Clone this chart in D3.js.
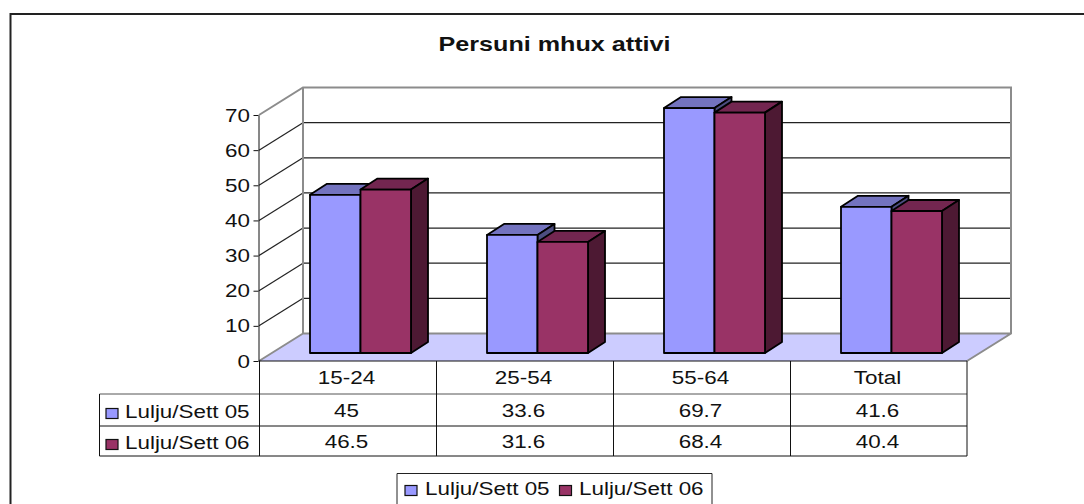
<!DOCTYPE html>
<html>
<head>
<meta charset="utf-8">
<script src="https://cdn.jsdelivr.net/npm/d3@7"></script>
<style>
  html, body { margin: 0; padding: 0; background: #fff; overflow: hidden; }
  svg { display: block; }
  text { font-family: "Liberation Sans", Arial, sans-serif; fill: #111; }
</style>
</head>
<body>
<script>
var categories = ['15-24', '25-54', '55-64', 'Total'];
var seriesNames = ['Lulju/Sett 05', 'Lulju/Sett 06'];
var values05 = [45, 33.6, 69.7, 41.6];
var values06 = [46.5, 31.6, 68.4, 40.4];
var labels05 = ['45', '33.6', '69.7', '41.6'];
var labels06 = ['46.5', '31.6', '68.4', '40.4'];
var yTicks = [0, 10, 20, 30, 40, 50, 60, 70];
var titleText = 'Persuni mhux attivi';

var width = 1084, height = 504;
var wallDx = 44, wallDy = -27.5;
var barDx = 17, barDy = -11, barLift = 8;
var textScale = 1.18;

var fronts = ['#9999ff', '#993366'];
var tops = ['#7373bf', '#732650'];
var sides = ['#4d4d80', '#4d1933'];

var svg = d3.select('body').append('svg')
  .attr('width', width)
  .attr('height', height);

var x = d3.scaleBand().domain(categories).range([259, 967]);
var y = d3.scaleLinear().domain([0, 70]).range([361, 115]);
var barX = d3.scaleBand().domain(seriesNames).range([51, 152]);

var label = function(parent, str, px, py, options) {
  options = options || {};
  return parent.append('text')
    .attr('transform', 'translate(' + px + ',' + py + ') scale(' + (options.scale || textScale) + ',1)')
    .attr('text-anchor', options.anchor || 'start')
    .style('font-size', (options.size || 19) + 'px')
    .style('font-weight', options.weight || 'normal')
    .text(str);
};

var drawFrame = function() {
  svg.append('path')
    .attr('d', 'M' + width + ',14H10.5V' + height)
    .attr('fill', 'none')
    .attr('stroke', '#222')
    .attr('stroke-width', 2);
  label(svg, titleText, 554.5, 51, {anchor: 'middle', weight: 'bold', size: 19.5, scale: 1.29});
};

var drawWalls = function() {
  var x0 = x.range()[0], x1 = x.range()[1];
  var y0 = y(0), yTop = y(70);
  var backLeft = x0 + wallDx, backRight = x1 + wallDx;
  var backBottom = y0 + wallDy, backTop = yTop + wallDy;

  svg.append('path')
    .attr('d', 'M' + x0 + ',' + y0 + 'L' + backLeft + ',' + backBottom + 'H' + backRight + 'L' + x1 + ',' + y0 + 'Z')
    .attr('fill', '#ccccff');

  yTicks.slice(1, -1).forEach(function(t) {
    svg.append('line')
      .attr('x1', backLeft).attr('x2', backRight)
      .attr('y1', y(t) + wallDy).attr('y2', y(t) + wallDy)
      .attr('stroke', '#222')
      .attr('stroke-width', 1.3);
    svg.append('line')
      .attr('x1', x0).attr('x2', backLeft)
      .attr('y1', y(t)).attr('y2', y(t) + wallDy)
      .attr('stroke', '#222')
      .attr('stroke-width', 1.2);
  });

  svg.append('path')
    .attr('d', 'M' + x0 + ',' + yTop + 'L' + backLeft + ',' + backTop + 'H' + backRight + 'V' + backBottom
      + 'L' + x1 + ',' + y0 + 'M' + backRight + ',' + backBottom + 'H' + backLeft + 'V' + backTop
      + 'M' + backLeft + ',' + backBottom + 'L' + x0 + ',' + y0)
    .attr('fill', 'none')
    .attr('stroke', '#8c8c8c')
    .attr('stroke-width', 2);
};

var drawBar = function(category, value, seriesIndex) {
  var left = x(category) + barX(seriesNames[seriesIndex]);
  var right = left + barX.bandwidth();
  var bottom = y(0) - barLift;
  var top = y(value) - barLift;
  var g = svg.append('g')
    .attr('stroke', '#000')
    .attr('stroke-width', 1.8)
    .attr('stroke-linejoin', 'round');

  g.append('path')
    .attr('d', 'M' + left + ',' + top + 'l' + barDx + ',' + barDy + 'H' + (right + barDx) + 'L' + right + ',' + top + 'Z')
    .attr('fill', tops[seriesIndex]);
  g.append('path')
    .attr('d', 'M' + right + ',' + top + 'l' + barDx + ',' + barDy + 'V' + (bottom + barDy) + 'L' + right + ',' + bottom + 'Z')
    .attr('fill', sides[seriesIndex]);
  g.append('rect')
    .attr('x', left)
    .attr('y', top)
    .attr('width', right - left)
    .attr('height', bottom - top)
    .attr('fill', fronts[seriesIndex]);
};

var drawBars = function() {
  categories.forEach(function(category, i) {
    drawBar(category, values05[i], 0);
    drawBar(category, values06[i], 1);
  });
};

var drawAxis = function() {
  var axis = d3.axisLeft(y)
    .tickValues(yTicks)
    .tickSize(5)
    .tickSizeOuter(0)
    .tickFormat(d3.format('d'));
  var g = svg.append('g')
    .attr('transform', 'translate(258.5,0)')
    .call(axis);
  g.selectAll('path, line').attr('stroke', '#111');
  g.selectAll('text').remove();
  yTicks.forEach(function(t) {
    label(svg, String(t), 250, y(t) + 6.5, {anchor: 'end'});
  });
};

var swatch = function(px, py, seriesIndex) {
  svg.append('rect')
    .attr('x', px).attr('y', py)
    .attr('width', 12).attr('height', 10)
    .attr('fill', fronts[seriesIndex])
    .attr('stroke', '#111')
    .attr('stroke-width', 1.2);
};

var drawTable = function() {
  var rowY = [361, 394, 426, 456];
  var left = 99.5;
  var x0 = x.range()[0], x1 = x.range()[1];
  var lines = svg.append('g').attr('stroke', '#111').attr('stroke-width', 1);

  lines.append('line').attr('x1', x0).attr('x2', x1).attr('y1', rowY[0]).attr('y2', rowY[0]).attr('stroke-width', 1.2);
  lines.append('line').attr('x1', left).attr('x2', x1).attr('y1', rowY[1]).attr('y2', rowY[1]).attr('stroke', '#555');
  lines.append('line').attr('x1', left).attr('x2', x1).attr('y1', rowY[2]).attr('y2', rowY[2]);
  lines.append('line').attr('x1', left).attr('x2', x1).attr('y1', rowY[3]).attr('y2', rowY[3]);
  lines.append('line').attr('x1', left).attr('x2', left).attr('y1', rowY[1]).attr('y2', rowY[3]);

  categories.forEach(function(category, i) {
    var cx = x(category) + x.bandwidth() / 2;
    lines.append('line').attr('x1', x(category) + 0.5).attr('x2', x(category) + 0.5).attr('y1', rowY[0]).attr('y2', rowY[3]);
    label(svg, category, cx - 1, 383.5, {anchor: 'middle'});
    label(svg, labels05[i], cx - 1, 416.5, {anchor: 'middle'});
    label(svg, labels06[i], cx - 1, 447.5, {anchor: 'middle'});
  });
  lines.append('line').attr('x1', x1).attr('x2', x1).attr('y1', rowY[0]).attr('y2', rowY[3]);

  swatch(106, 408.5, 0);
  swatch(106, 439.5, 1);
  label(svg, seriesNames[0], 125, 418);
  label(svg, seriesNames[1], 125, 449);
};

var drawLegend = function() {
  svg.append('path')
    .attr('d', 'M397,' + height + 'V473.5H712V' + height)
    .attr('fill', 'none')
    .attr('stroke', '#222');
  swatch(405, 485.5, 0);
  label(svg, seriesNames[0], 425, 495);
  swatch(559.5, 485.5, 1);
  label(svg, seriesNames[1], 579, 495);
};

drawFrame();
drawWalls();
drawBars();
drawTable();
drawAxis();
drawLegend();
</script>
</body>
</html>
